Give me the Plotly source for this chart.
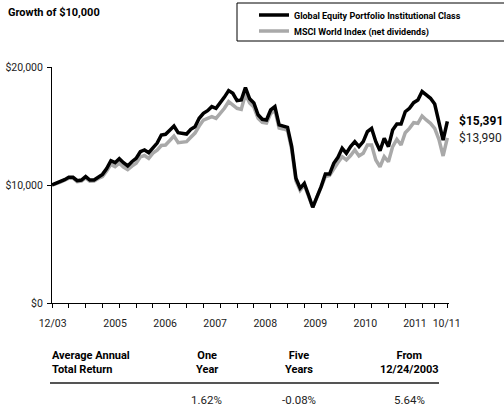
import plotly.graph_objects as go

# ---------------- data ----------------
months = list(range(95))  # 12/2003 .. 10/2011, monthly

fund = [10000, 10130, 10280, 10450, 10650, 10650, 10370, 10420, 10710, 10420,
        10420, 10650, 10900, 11400, 12060, 11890, 12230, 11890, 11610, 11970,
        12260, 12820, 12970, 12740, 13200, 13550, 14240, 14300, 14650, 15000,
        14430, 14350, 14320, 14720, 14940, 15650, 16080, 16300, 16640, 16500,
        16920, 17450, 18000, 17770, 17150, 17200, 18250, 17300, 16950, 15950,
        15570, 15510, 16360, 16640, 15090, 15000, 14890, 13250, 10570, 9720,
        10140, 9150, 8110, 9000, 9860, 10930, 10930, 11840, 12350, 13110,
        12690, 13250, 13670, 13250, 13670, 14520, 14800, 13670, 12910, 13960,
        13250, 14660, 15170, 15170, 16210, 16500, 16980, 17200, 17920, 17630,
        17350, 16860, 15280, 13810, 15391]

index = [10000, 10100, 10250, 10400, 10580, 10590, 10290, 10330, 10600, 10320,
         10330, 10550, 10720, 11180, 11750, 11560, 11850, 11520, 11300, 11600,
         11850, 12380, 12500, 12250, 12700, 12950, 13350, 13390, 13800, 14150,
         13590, 13600, 13670, 14040, 14400, 15000, 15500, 15650, 15790, 15650,
         16080, 16500, 17060, 16800, 16500, 16410, 17710, 16950, 16600, 15650,
         15300, 15250, 16050, 16350, 14820, 14750, 14640, 13000, 10350, 9550,
         10000, 9050, 8100, 8950, 9750, 10710, 10800, 11420, 11900, 12400,
         12120, 12500, 12970, 12460, 12690, 13390, 13390, 12120, 11550, 12400,
         11970, 13250, 13870, 13390, 14430, 14800, 15280, 15230, 15850, 15510,
         15230, 14800, 13870, 12460, 13990]

fund_name = "Global Equity Portfolio Institutional Class"
index_name = "MSCI World Index (net dividends)"

x_label_text = ["12/03", "2005", "2006", "2007", "2008", "2009", "2010", "2011", "10/11"]
x_label_pos = [0.15, 15, 26.9, 38.8, 50.7, 62.6, 74.5, 86.3, 93.85]
x_tick_pos = [0, 4, 8, 12, 16, 20, 24, 28, 32, 36, 40, 44, 48, 52, 56, 60,
              64, 68, 72, 76, 80, 84, 88, 91, 94]

y_tick_vals = [0, 10000, 20000]
y_tick_text = ["$0", "$10,000", "$20,000"]

table_title = ["Average Annual", "Total Return"]
table_headers = [["One", "Year"], ["Five", "Years"], ["From", "12/24/2003"]]
table_values = ["1.62%", "-0.08%", "5.64%"]

# ---------------- style ----------------
FONT = "Roboto, Liberation Sans, sans-serif"
BLACK = "#000000"
GREY = "#a9a9a9"
TXT = "#222222"


def fnt(size, color=TXT, bold=False):
    d = dict(family=FONT, size=size, color=color)
    if bold:
        d["weight"] = "bold"
    return d


W, H = 504, 411
L, R, T, B = 52, 55, 67, 108
PW, PH = W - L - R, H - T - B


def px(x):
    return (x - L) / PW


def py(y):
    return (H - B - y) / PH


fig = go.Figure()
fig.add_trace(go.Scatter(x=months, y=index, mode="lines", name=index_name,
                         line=dict(color=GREY, width=3.5), legend="legend2"))
fig.add_trace(go.Scatter(x=months, y=fund, mode="lines", name=fund_name,
                         line=dict(color=BLACK, width=3.5), legend="legend"))

ann = []
ann.append(dict(x=months[-1], y=fund[-1], xref="x", yref="y", text=f"${fund[-1]:,}",
                showarrow=False, xanchor="left", yanchor="middle", xshift=10,
                font=fnt(12, BLACK, True)))
ann.append(dict(x=months[-1], y=index[-1], xref="x", yref="y", text=f"${index[-1]:,}",
                showarrow=False, xanchor="left", yanchor="middle", xshift=10,
                font=fnt(12)))
hdr_font = fnt(11, BLACK, True)
ann.append(dict(x=px(50), y=py(362), xref="paper", yref="paper",
                text="<br>".join(table_title), showarrow=False, xanchor="left",
                yanchor="middle", align="left", font=hdr_font))
for cx, h, v in zip([206.7, 299.3, 409.3], table_headers, table_values):
    ann.append(dict(x=px(cx), y=py(362), xref="paper", yref="paper",
                    text="<br>".join(h), showarrow=False, xanchor="center",
                    yanchor="middle", align="center", font=hdr_font))
    ann.append(dict(x=px(cx), y=py(400), xref="paper", yref="paper", text=v,
                    showarrow=False, xanchor="center", yanchor="middle",
                    font=fnt(11.5)))

shapes = [
    dict(type="line", xref="paper", yref="paper", x0=px(50), x1=px(439),
         y0=py(383), y1=py(383), line=dict(color="#555555", width=2)),
    dict(type="rect", xref="paper", yref="paper", x0=px(237), x1=px(530),
         y0=py(3), y1=py(41), line=dict(color=BLACK, width=1)),
]

leg_font = fnt(9, BLACK, True)
fig.update_layout(
    width=W, height=H,
    margin=dict(l=L, r=R, t=T, b=B, autoexpand=False),
    paper_bgcolor="white", plot_bgcolor="white",
    title=dict(text="Growth of $10,000", x=8 / W, xanchor="left", xref="container",
               y=1 - 12 / H, yanchor="middle", yref="container",
               font=fnt(11, BLACK, True)),
    legend=dict(x=254 / W, xref="container", y=1 - 15 / H, yref="container",
                xanchor="left", yanchor="middle", font=leg_font,
                bgcolor="rgba(0,0,0,0)", itemwidth=30),
    legend2=dict(x=254 / W, xref="container", y=1 - 31 / H, yref="container",
                 xanchor="left", yanchor="middle", font=leg_font,
                 bgcolor="rgba(0,0,0,0)", itemwidth=30),
    xaxis=dict(range=[0, 94.4], showgrid=False, zeroline=False,
               showline=True, linecolor=BLACK, linewidth=1,
               tickmode="array", tickvals=x_label_pos, ticktext=x_label_text,
               tickangle=0, ticklabelstandoff=6,
               ticks="outside", ticklen=4, tickcolor="rgba(0,0,0,0)",
               minor=dict(tickmode="array", tickvals=x_tick_pos, ticks="outside",
                          ticklen=4, tickcolor=BLACK, tickwidth=1, showgrid=False),
               tickfont=fnt(10.5), fixedrange=True),
    yaxis=dict(range=[0, 20000], showgrid=False, zeroline=False,
               showline=True, linecolor=BLACK, linewidth=1,
               tickmode="array", tickvals=y_tick_vals, ticktext=y_tick_text,
               ticks="outside", ticklen=4, tickcolor=BLACK, ticklabelstandoff=2,
               tickfont=fnt(10.5), fixedrange=True),
    annotations=ann,
    shapes=shapes,
    showlegend=True,
)

fig.write_html("out.html", config={"displayModeBar": False},
               post_script="document.body.style.margin='0px';")
